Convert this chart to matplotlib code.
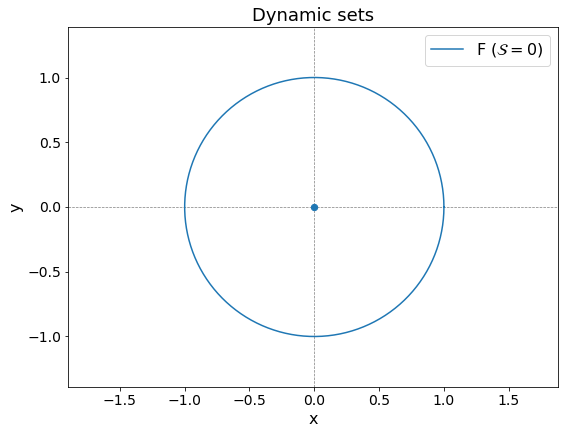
import numpy as np
import matplotlib
matplotlib.use("Agg")
import matplotlib.pyplot as plt

# unit circle (boundary of F) and the equilibrium point
radius = 1.0
n_points = 400
center_x = [0.0]
center_y = [0.0]
legend_label = r"F ($\mathcal{S}=0$)"

theta = np.linspace(0, 2 * np.pi, n_points)
circle_x = radius * np.cos(theta)
circle_y = radius * np.sin(theta)

fig = plt.figure(figsize=(568 / 72, 435 / 72), dpi=72)
ax = fig.add_axes([68 / 568, 1 - 387 / 435, 490 / 568, 360 / 435])

ax.axhline(0, color="gray", lw=0.7, ls="--")
ax.axvline(0, color="gray", lw=0.7, ls="--")
ax.plot(circle_x, circle_y, color="#1f77b4", lw=1.5, label=legend_label)
ax.scatter(center_x, center_y, color="#1f77b4", s=40, zorder=3)

ax.set_xlim(-1.9, 1.88)
ax.set_ylim(-1.39, 1.39)
ax.set_xticks([-1.5, -1.0, -0.5, 0.0, 0.5, 1.0, 1.5])
ax.set_yticks([-1.0, -0.5, 0.0, 0.5, 1.0])
ax.tick_params(labelsize=14)
ax.set_xlabel("x", fontsize=16)
ax.set_ylabel("y", fontsize=16)
ax.set_title("Dynamic sets", fontsize=18)
ax.legend(fontsize=16, loc="upper right")

fig.savefig("out.png", dpi=72)
